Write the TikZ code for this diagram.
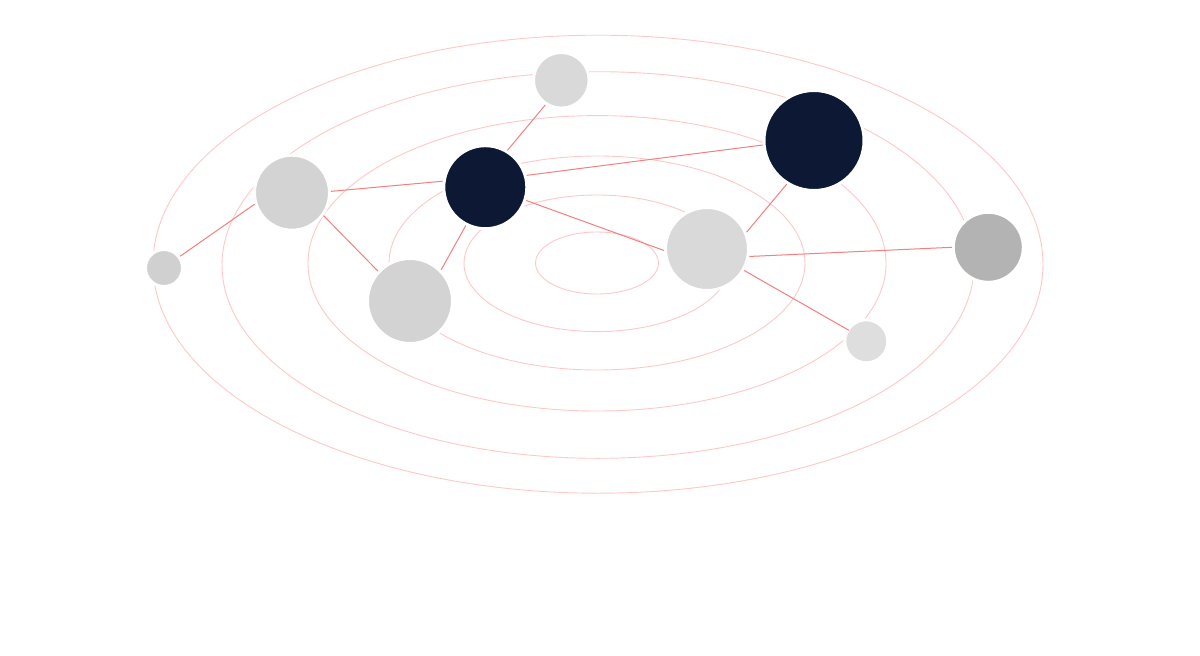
\documentclass[tikz,border=0pt]{standalone}
\definecolor{navy}{HTML}{0C1834}
\definecolor{edgered}{RGB}{242,128,128}
\definecolor{ringred}{RGB}{255,200,200}
\begin{document}
\begin{tikzpicture}[x=1pt,y=-1pt,
  ring/.style={draw=ringred,line width=0.9pt},
  link/.style={draw=edgered,line width=1pt},
  ball/.style={circle,inner sep=0pt,draw=white,line width=3pt,minimum size=#1}]
\useasboundingbox[fill=white] (0,0) rectangle (1200,656);
% orbits
\draw[ring] (597,263) ellipse [x radius=61.5,y radius=31];
\draw[ring] (597,263.3) ellipse [x radius=133,y radius=68.3];
\draw[ring] (597,263) ellipse [x radius=208,y radius=107];
\draw[ring] (597,263.3) ellipse [x radius=289,y radius=147.7];
\draw[ring] (598,265) ellipse [x radius=376,y radius=193.3];
\draw[ring] (598,264.2) ellipse [x radius=445,y radius=229];
% nodes (size = 2r+3)
\node[ball=55.6,fill={rgb,255:red,217;green,217;blue,217}] (A) at (561.3,80.3) {};
\node[ball=75,fill={rgb,255:red,211;green,211;blue,211}] (B) at (292,192.7) {};
\node[ball=83,fill=navy] (C) at (485.3,187.2) {};
\node[ball=100,fill=navy] (D) at (814,140.5) {};
\node[ball=37,fill={rgb,255:red,208;green,208;blue,208}] (E) at (164,268) {};
\node[ball=85,fill={rgb,255:red,211;green,211;blue,211}] (F) at (410,301) {};
\node[ball=83,fill={rgb,255:red,217;green,217;blue,217}] (G) at (707,249) {};
\node[ball=70,fill={rgb,255:red,179;green,179;blue,179}] (H) at (988.3,247.3) {};
\node[ball=43,fill={rgb,255:red,222;green,222;blue,222}] (I) at (866.3,341.3) {};
% links
\draw[link] (A.237) -- (C.59);
\draw[link] (B.2.5) -- (C.172.6);
\draw[link] (C.16.4) -- (D.185);
\draw[link] (B.197.4) -- (E.36.4);
\draw[link] (B.-36) -- (F.137.5);
\draw[link] (C.243.6) -- (F.45.9);
\draw[link] (C.-18.4) -- (G.182.3);
\draw[link] (G.23.9) -- (D.238);
\draw[link] (G.-10.3) -- (H.180.6);
\draw[link,shorten >=-2.5pt] (G.-30.5) -- (I.148.8);
\end{tikzpicture}
\end{document}
